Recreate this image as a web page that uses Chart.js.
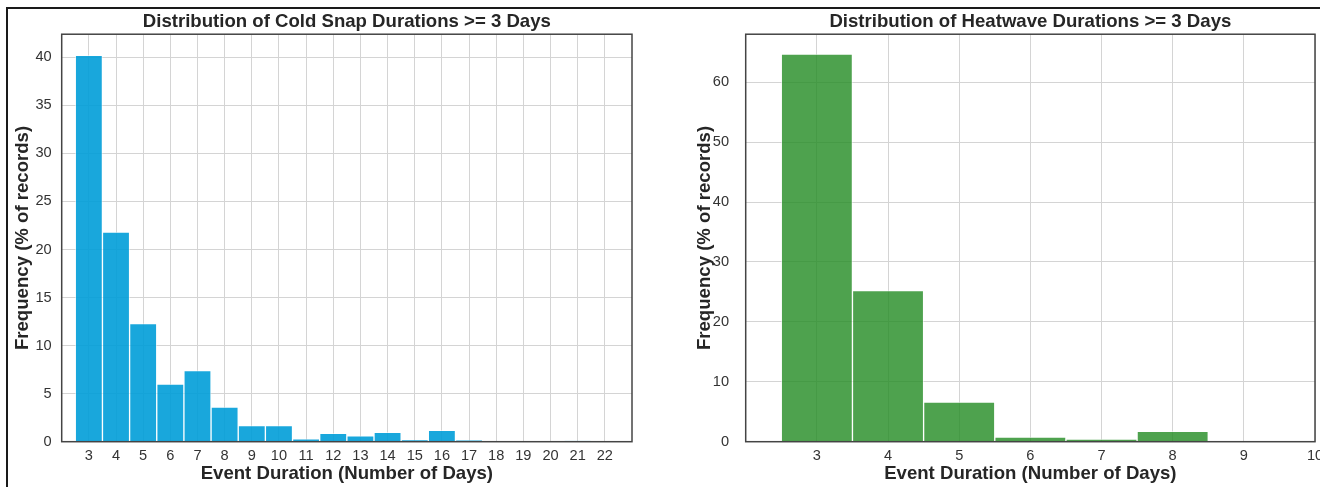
<!DOCTYPE html>
<html>
<head>
<meta charset="utf-8">
<script src="https://cdn.jsdelivr.net/npm/chart.js@4.4.1/dist/chart.umd.min.js"></script>
<style>
  html, body { margin: 0; padding: 0; background: #fff; overflow: hidden; width: 1320px; height: 487px; }
  #marcoFig { position: absolute; left: 6px; top: 7px; width: 1400px; height: 600px; border-top: 2px solid #1a1a1a; border-left: 2px solid #1a1a1a; }
  canvas { position: absolute; top: 0; }
  #GraficoFrio { left: 0; }
  #GraficoCalor { left: 660px; }
</style>
</head>
<body>
<div id="marcoFig"></div>
<canvas id="GraficoFrio" width="660" height="487"></canvas>
<canvas id="GraficoCalor" width="660" height="487"></canvas>
<script>
// DATOS - olas de frio (cold snaps)
var coldDays = [3, 4, 5, 6, 7, 8, 9, 10, 11, 12, 13, 14, 15, 16, 17, 18, 19, 20, 21, 22];
var coldPct = [40.2, 21.8, 12.3, 6.0, 7.4, 3.6, 1.67, 1.67, 0.31, 0.87, 0.6, 0.98, 0.18, 1.19, 0.15, 0, 0, 0, 0.07, 0];
var coldXTicks = [3, 4, 5, 6, 7, 8, 9, 10, 11, 12, 13, 14, 15, 16, 17, 18, 19, 20, 21, 22];
var coldYTicks = [0, 5, 10, 15, 20, 25, 30, 35, 40];

// DATOS - olas de calor (heatwaves)
var heatDays = [3, 4, 5, 6, 7, 8];
var heatPct = [64.7, 25.2, 6.6, 0.78, 0.45, 1.73];
var heatXTicks = [3, 4, 5, 6, 7, 8, 9, 10];
var heatYTicks = [0, 10, 20, 30, 40, 50, 60];

var fuente = "'Liberation Sans', Arial, sans-serif";
var tituloFont = { family: fuente, size: 18.6, weight: 'bold' };
var tickFont = { family: fuente, size: 14.6 };

// borde negro alrededor del area del grafico
var marco = {
  id: 'marco',
  afterDatasetsDraw: function(chart) {
    var a = chart.chartArea;
    var c = chart.ctx;
    c.save();
    c.strokeStyle = '#444';
    c.lineWidth = 1.5;
    c.strokeRect(a.left, a.top, a.right - a.left, a.bottom - a.top);
    c.restore();
  }
};

function fijarTicks(lista) {
  return function(axis) {
    axis.ticks = lista.map(function(v) { return { value: v }; });
  };
}

function hacerHistograma(id, dias, pct, xTicks, yTicks, cfg) {
  var ctx = document.getElementById(id).getContext('2d');
  return new Chart(ctx, {
    type: 'bar',
    data: {
      datasets: [{
        data: dias.map(function(d, i) { return { x: d, y: pct[i] }; }),
        backgroundColor: cfg.color,
        borderColor: 'rgba(255,255,255,0.5)',
        borderWidth: 1,
        barPercentage: 1,
        categoryPercentage: 1
      }]
    },
    options: {
      responsive: false,
      animation: false,
      layout: { padding: { left: 0, right: cfg.padRight, top: 0, bottom: 0 } },
      plugins: {
        legend: { display: false },
        tooltip: { enabled: false },
        title: {
          display: true,
          text: cfg.titulo,
          fullSize: false,
          color: '#262626',
          font: tituloFont,
          padding: { top: 10.4, bottom: 1.5 }
        }
      },
      scales: {
        x: {
          type: 'linear',
          min: cfg.xMin,
          max: cfg.xMax,
          offset: false,
          afterBuildTicks: fijarTicks(xTicks),
          afterFit: function(s) { s.height = 45.3; s.paddingLeft = 0; s.paddingRight = 0; },
          grid: { color: '#d4d4d4', lineWidth: 1, drawTicks: false, offset: false },
          border: { display: false },
          ticks: { color: '#333', font: tickFont, padding: 5.4, autoSkip: false, maxRotation: 0 },
          title: {
            display: true,
            text: 'Event Duration (Number of Days)',
            color: '#262626',
            font: tituloFont,
            padding: { top: 0, bottom: 2.1 }
          }
        },
        y: {
          min: 0,
          max: cfg.yMax,
          afterBuildTicks: fijarTicks(yTicks),
          afterFit: function(s) { s.width = cfg.yWidth; s.paddingTop = 0; s.paddingBottom = 0; },
          grid: { color: '#d4d4d4', lineWidth: 1, drawTicks: false },
          border: { display: false },
          ticks: { color: '#333', font: tickFont, padding: cfg.yTickPad },
          title: {
            display: true,
            text: 'Frequency (% of records)',
            color: '#262626',
            font: tituloFont,
            padding: { top: cfg.yTitlePad, bottom: 0 }
          }
        }
      }
    },
    plugins: [marco]
  });
}

var GraficoFrio = hacerHistograma('GraficoFrio', coldDays, coldPct, coldXTicks, coldYTicks, {
  titulo: 'Distribution of Cold Snap Durations >= 3 Days',
  color: 'rgba(0,157,216,0.9)',
  xMin: 2, xMax: 23, yMax: 42.4,
  yWidth: 61.7, yTickPad: 10, yTitlePad: 12.1, padRight: 28
});

var GraficoCalor = hacerHistograma('GraficoCalor', heatDays, heatPct, heatXTicks, heatYTicks, {
  titulo: 'Distribution of Heatwave Durations >= 3 Days',
  color: 'rgba(34,139,34,0.8)',
  xMin: 2, xMax: 10, yMax: 68,
  yWidth: 85.7, yTickPad: 16.7, yTitlePad: 33.8, padRight: 5
});
</script>
</body>
</html>
